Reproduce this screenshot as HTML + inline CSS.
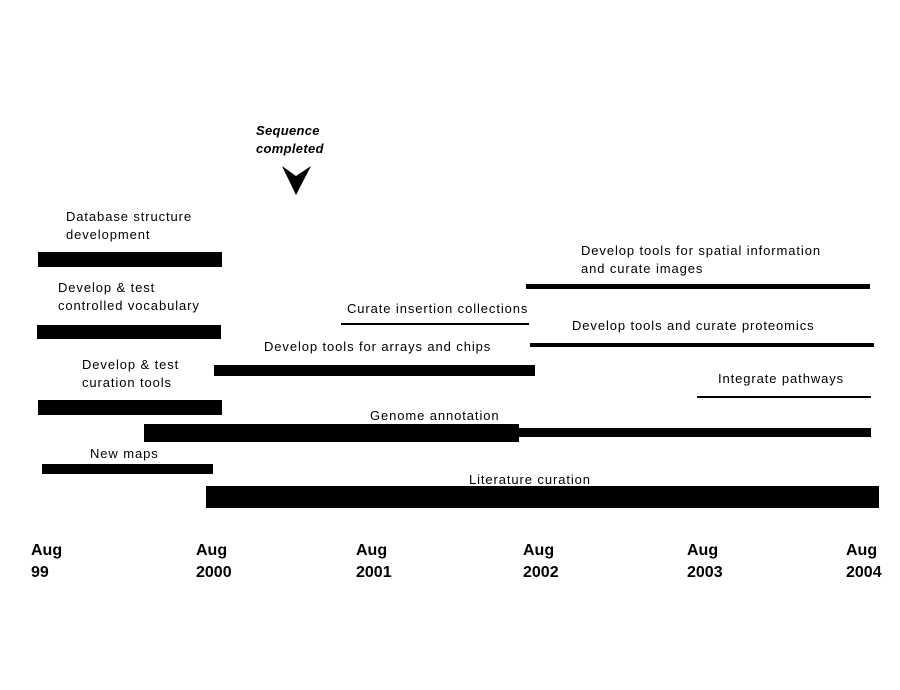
<!DOCTYPE html>
<html><head><style>
body{margin:0;background:#fff;}
.c{position:relative;width:900px;height:690px;overflow:hidden;font-family:"Liberation Sans",sans-serif;}
.b{position:absolute;background:#000;}
.t{position:absolute;font-size:13px;line-height:18px;color:#000;white-space:nowrap;letter-spacing:0.9px;}
.a{position:absolute;font-weight:bold;font-size:16px;line-height:22px;transform:scaleX(1.0);transform-origin:left;}
</style></head><body><div class="c">
<div class="t" style="left:256px;top:122px;font-weight:bold;font-style:italic;letter-spacing:0.3px">Sequence<br>completed</div>
<svg style="position:absolute;left:0;top:0" width="900" height="690"><polygon points="282,166 296,176 311,166 296,195" fill="#000"/></svg>
<div class="t" style="left:66px;top:208px">Database structure<br>development</div>
<div class="b" style="left:38px;top:252px;width:184px;height:15px"></div>
<div class="t" style="left:58px;top:279px">Develop &amp; test<br>controlled vocabulary</div>
<div class="b" style="left:37px;top:325px;width:184px;height:14px"></div>
<div class="t" style="left:82px;top:356px">Develop &amp; test<br>curation tools</div>
<div class="b" style="left:38px;top:400px;width:184px;height:15px"></div>
<div class="t" style="left:264px;top:338px">Develop tools for arrays and chips</div>
<div class="b" style="left:214px;top:365px;width:321px;height:11px"></div>
<div class="t" style="left:347px;top:300px">Curate insertion collections</div>
<div class="b" style="left:341px;top:323px;width:188px;height:2px"></div>
<div class="t" style="left:581px;top:242px">Develop tools for spatial information<br>and curate images</div>
<div class="b" style="left:526px;top:284px;width:344px;height:5px"></div>
<div class="t" style="left:572px;top:317px">Develop tools and curate proteomics</div>
<div class="b" style="left:530px;top:343px;width:344px;height:4px"></div>
<div class="t" style="left:718px;top:370px">Integrate pathways</div>
<div class="b" style="left:697px;top:396px;width:174px;height:2px"></div>
<div class="t" style="left:370px;top:407px">Genome annotation</div>
<div class="b" style="left:144px;top:424px;width:375px;height:18px"></div>
<div class="b" style="left:519px;top:428px;width:352px;height:9px"></div>
<div class="t" style="left:90px;top:445px">New maps</div>
<div class="b" style="left:42px;top:464px;width:171px;height:10px"></div>
<div class="t" style="left:469px;top:471px">Literature curation</div>
<div class="b" style="left:206px;top:486px;width:673px;height:22px"></div>
<div class="a" style="left:31px;top:540px">Aug<br>99</div>
<div class="a" style="left:196px;top:540px">Aug<br>2000</div>
<div class="a" style="left:356px;top:540px">Aug<br>2001</div>
<div class="a" style="left:523px;top:540px">Aug<br>2002</div>
<div class="a" style="left:687px;top:540px">Aug<br>2003</div>
<div class="a" style="left:846px;top:540px">Aug<br>2004</div>
</div></body></html>
